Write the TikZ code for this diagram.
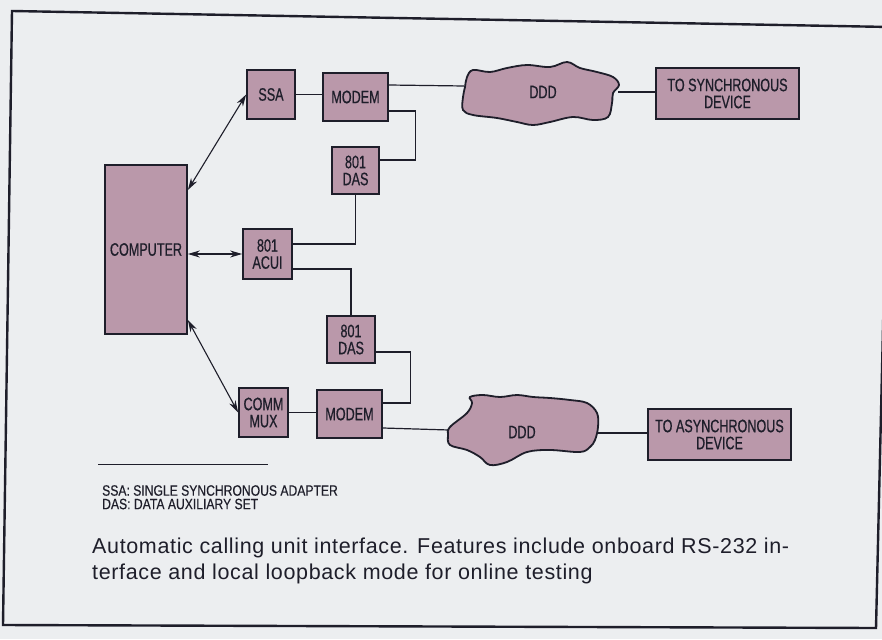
\documentclass[tikz,border=0pt]{standalone}
\usepackage{fontspec}
\usetikzlibrary{arrows.meta}
\newfontfamily\labfont[FakeStretch=0.70,FakeBold=0.6]{Liberation Sans}
\newfontfamily\legfont[FakeStretch=0.81,FakeBold=0.4]{Liberation Sans}
\newfontfamily\capfont[LetterSpace=3]{Liberation Sans}
\definecolor{paper}{RGB}{236,238,240}
\definecolor{mauve}{RGB}{186,152,170}
\definecolor{ink}{RGB}{30,30,42}
\tikzset{
  blk/.style={draw=ink, line width=1.7pt, fill=mauve, inner sep=0pt, align=center,
    font=\labfont\fontsize{18}{17}\selectfont, text=ink},
  wire/.style={draw=ink, line width=1.2pt},
  biarrow/.style={draw=ink, line width=1.1pt, {Stealth[length=12pt,width=7pt]}-{Stealth[length=12pt,width=7pt]}},
  cloud/.style={draw=ink, line width=1.8pt, fill=mauve}
}
\begin{document}
\begin{tikzpicture}[x=1pt,y=-1pt]
\fill[paper] (0,0) rectangle (882,639);
\useasboundingbox (0,0) rectangle (882,639);
\draw[ink, line width=2.4pt] (12,11) -- (890,27) -- (876,628) -- (3,625) -- cycle;

% blocks
\node[blk, minimum width=82pt, minimum height=169pt] (comp) at (146,249.5) {COMPUTER};
\node[blk, minimum width=48pt, minimum height=49pt] (ssa) at (271,94.5) {SSA};
\node[blk, minimum width=65pt, minimum height=48pt] (m1) at (355.5,97) {MODEM};
\node[blk, minimum width=47pt, minimum height=47pt] (das1) at (355.5,170.5) {801\\DAS};
\node[blk, minimum width=49pt, minimum height=50pt] (acui) at (267.5,254) {801\\ACUI};
\node[blk, minimum width=48pt, minimum height=47pt] (das2) at (351,339.5) {801\\DAS};
\node[blk, minimum width=49pt, minimum height=49pt] (mux) at (263.5,412.5) {COMM\\MUX};
\node[blk, minimum width=65pt, minimum height=48pt] (m2) at (349.5,414) {MODEM};
\node[blk, minimum width=143pt, minimum height=51pt] (sync) at (727.5,93.5) {TO SYNCHRONOUS\\DEVICE};
\node[blk, minimum width=143pt, minimum height=51pt] (async) at (719.5,434.5) {TO ASYNCHRONOUS\\DEVICE};

% clouds
\draw[cloud] plot[smooth cycle, tension=0.6] coordinates {
 (467,77) (473,70) (490,72) (507,68) (527,65) (550,67) (567,62) (580,68) (597,72)
 (613,77) (619,85) (613,93) (612,103) (608,117) (593,120) (573,117) (550,122)
 (533,125) (517,122) (497,118) (473,115) (463,110) (463,97) (465,87)};
\node[font=\labfont\fontsize{18}{17}\selectfont, text=ink] (ddd1) at (543,92) {DDD};
\coordinate (c1w) at (464,86);
\coordinate (c1e) at (618,92);

\draw[cloud] plot[smooth cycle, tension=0.6] coordinates {
 (450,427) (467,413) (472,403) (470,397) (483,395) (500,397) (517,395) (533,397)
 (550,398) (570,400) (587,403) (597,413) (598,427) (595,440) (590,447) (580,452)
 (550,450) (527,452) (507,462) (490,465) (480,457) (467,450) (450,445) (448,435)};
\node[font=\labfont\fontsize{18}{17}\selectfont, text=ink] (ddd2) at (522,432) {DDD};
\coordinate (c2w) at (449,430);
\coordinate (c2e) at (597,433);

% wires
\draw[wire] (ssa.east) -- (ssa.east -| m1.west);
\draw[wire] ([yshift=12pt]m1.east) -- (c1w);
\draw[wire] (c1e) -- (c1e -| sync.west);
\draw[wire] ([yshift=-14pt]m1.east) -- ++(27,0) |- ([yshift=10.5pt]das1.east);
\draw[wire] (das1.south) |- ([yshift=10pt]acui.east);
\draw[wire] ([yshift=-15pt]acui.east) -| (das2.north);
\draw[wire] ([yshift=-12.5pt]das2.east) -- ++(35,0) |- ([yshift=11pt]m2.east);
\draw[wire] (mux.east) -- (mux.east -| m2.west);
\draw[wire] ([yshift=-14pt]m2.east) -- (c2w);
\draw[wire] (c2e) -- (c2e -| async.west);

% arrows
\draw[biarrow] ([yshift=59.5pt]comp.east) -- (ssa.west);
\draw[biarrow] (acui.west -| comp.east) -- (acui.west);
\draw[biarrow] ([yshift=-70.5pt]comp.east) -- (mux.west);

% legend
\draw[ink, line width=0.9pt] (98,464) coordinate (lg1) -- (268,464) coordinate (lg2);
\node[anchor=north west, inner sep=0pt, align=left, text=ink,
  font=\legfont\fontsize{15}{13.5}\selectfont] (legend) at (102,485)
  {SSA: SINGLE SYNCHRONOUS ADAPTER\\DAS: DATA AUXILIARY SET};

% caption
\node[anchor=base west, inner sep=0pt, text=ink, font=\capfont\fontsize{21.5}{26}\selectfont] (cap1) at (92,553)
  {Automatic calling unit interface. Features include onboard RS-232 in-};
\node[anchor=base west, inner sep=0pt, text=ink, font=\capfont\fontsize{21.5}{26}\selectfont] (cap2) at (92,579)
  {terface and local loopback mode for online testing};
\end{tikzpicture}
\end{document}
